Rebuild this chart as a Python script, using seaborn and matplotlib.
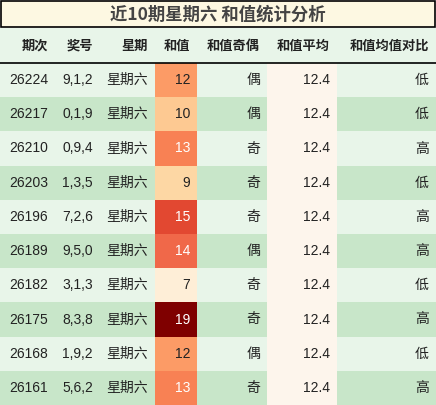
import matplotlib
matplotlib.use("Agg")
import matplotlib.pyplot as plt
import seaborn as sns
import numpy as np
from matplotlib.patches import Rectangle

periods = ["26224","26217","26210","26203","26196","26189","26182","26175","26168","26161"]
numbers = ["9,1,2","0,1,9","0,9,4","1,3,5","7,2,6","9,5,0","3,1,3","8,3,8","1,9,2","5,6,2"]
weekday = ["星期六"]*10
sums = [12,10,13,9,15,14,7,19,12,13]
parity = ["偶","偶","奇","奇","奇","偶","奇","奇","偶","奇"]
avg = [12.4]*10
compare = ["低","低","高","低","高","高","低","高","低","高"]
headers = ["期次","奖号","星期","和值","和值奇偶","和值平均","和值均值对比"]
title = "近10期星期六 和值统计分析"

sns.set_theme(style="white")
plt.rcParams['font.family'] = ['Liberation Sans', 'Noto Sans CJK SC', 'DejaVu Sans']

W, H = 436, 405
fig = plt.figure(figsize=(W/100, H/100), dpi=100)

edges = [0, 55, 100, 155, 197, 267, 337, 436]
title_h, head_h = 28, 35
row_h = (H - title_h - head_h) / 10
rows_top = title_h + head_h

# sum column heatmap (beneath)
hax = fig.add_axes([edges[3]/W, 0, (edges[4]-edges[3])/W, (H-rows_top)/H])
sns.heatmap(np.array(sums).reshape(-1, 1), cmap="OrRd", vmin=6, vmax=19, cbar=False,
            ax=hax, annot=False, xticklabels=False, yticklabels=False)
hax.axis("off")
hax.set_zorder(0)

ax = fig.add_axes([0, 0, 1, 1])
ax.set_xlim(0, W); ax.set_ylim(H, 0); ax.axis("off")
ax.set_zorder(1); ax.patch.set_visible(False)

ax.add_patch(Rectangle((1, 1), W-2, title_h-2, facecolor="#fdf8e2", edgecolor="black", lw=1.2))
ax.text(W/2, title_h/2+1, title, ha="center", va="center", fontsize=12.5, fontweight="bold",
        color="#444444", family=['Noto Sans CJK SC', 'DejaVu Sans'])
ax.add_patch(Rectangle((0, title_h), W, head_h, facecolor="#e8f5e9", edgecolor="none"))
for i, h in enumerate(headers):
    ax.text(edges[i+1]-7, title_h+head_h/2, h, ha="right", va="center", fontsize=9.5,
            fontweight="bold", color="#222222", family=['Noto Sans CJK SC', 'DejaVu Sans'])
ax.plot([0, W], [rows_top, rows_top], color="black", lw=1.2)

cols = [periods, numbers, weekday, sums, parity, avg, compare]
for r in range(10):
    y0 = rows_top + r*row_h
    bg = "#e8f5e9" if r % 2 == 0 else "#c8e6c9"
    ax.add_patch(Rectangle((0, y0), edges[3], row_h, facecolor=bg, edgecolor="none"))
    ax.add_patch(Rectangle((edges[4], y0), edges[5]-edges[4], row_h, facecolor=bg, edgecolor="none"))
    ax.add_patch(Rectangle((edges[5], y0), edges[6]-edges[5], row_h, facecolor="#fdf5ec", edgecolor="none"))
    ax.add_patch(Rectangle((edges[6], y0), edges[7]-edges[6], row_h, facecolor=bg, edgecolor="none"))

for r in range(10):
    yc = rows_top + (r+0.5)*row_h
    for c, col in enumerate(cols):
        v = col[r]
        color = "#222222"
        if c == 3 and v >= 13:
            color = "white"
        ax.text(edges[c+1]-7, yc, str(v), ha="right", va="center", fontsize=10, color=color, zorder=5)

fig.savefig("out.png", dpi=100)
